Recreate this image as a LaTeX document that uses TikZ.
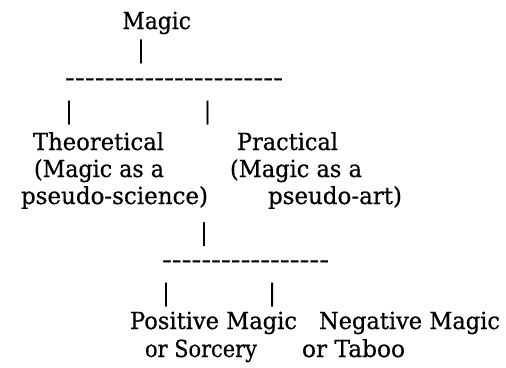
\documentclass[tikz,border=0pt]{standalone}
\usepackage{fontspec}
\newfontfamily\serf{DejaVu Serif}[FakeBold=0.6]
\usepackage{graphicx}
\newcommand\fitw[2]{\resizebox{#1pt}{\height}{#2}}
\newcommand\hy{\hbox{-}}
\begin{document}
\begin{tikzpicture}[x=1pt,y=-1pt,
  lbl/.style={anchor=base west, inner sep=0pt, outer sep=0pt, font=\serf\fontsize{23.5}{28}\selectfont},
  vbar/.style={anchor=center, inner sep=0pt, outer sep=0pt, font=\serf\fontsize{23.5}{28}\selectfont},
  hrule/.style={anchor=center, inner sep=0pt, outer sep=0pt, font=\serf\fontsize{23.5}{28}\selectfont}]
\useasboundingbox[fill=white] (0,0) rectangle (506,367);
% top
\node[lbl] (magic) at (122.5,29) {\fitw{68.5}{Magic}};
\node[vbar] (b0) at (141,51.5) {|};
\node[hrule] (d1) at (174,82) {\fitw{218}{\hy\hy\hy\hy\hy\hy\hy\hy\hy\hy\hy\hy\hy\hy\hy\hy\hy\hy\hy\hy\hy\hy}};
\node[vbar] (b1) at (69,112.5) {|};
\node[vbar] (b2) at (207.5,112.5) {|};
% theoretical
\node[lbl] (t1) at (33,150) {\fitw{131}{Theoretical}};
\node[lbl] (t2) at (34,177) {\fitw{130}{(Magic as a}};
\node[lbl] (t3) at (21,204) {\fitw{187}{pseudo-science)}};
% practical
\node[lbl] (p1) at (237,150) {\fitw{101}{Practical}};
\node[lbl] (p2) at (230,177) {\fitw{132}{(Magic as a}};
\node[lbl] (p3) at (268,204) {\fitw{134}{pseudo-art)}};
% lower
\node[vbar] (b3) at (204,234) {|};
\node[hrule] (d2) at (245.5,264) {\fitw{167}{\hy\hy\hy\hy\hy\hy\hy\hy\hy\hy\hy\hy\hy\hy\hy\hy\hy}};
\node[vbar] (b4) at (166,294.5) {|};
\node[vbar] (b5) at (272,294.5) {|};
\node[lbl] (n1) at (130,329) {\fitw{167}{Positive Magic}};
\node[lbl] (n2) at (319,329) {\fitw{181}{Negative Magic}};
\node[lbl] (n3) at (145,357) {\fitw{112}{or Sorcery}};
\node[lbl] (n4) at (302,357) {\fitw{103}{or Taboo}};
\end{tikzpicture}
\end{document}
